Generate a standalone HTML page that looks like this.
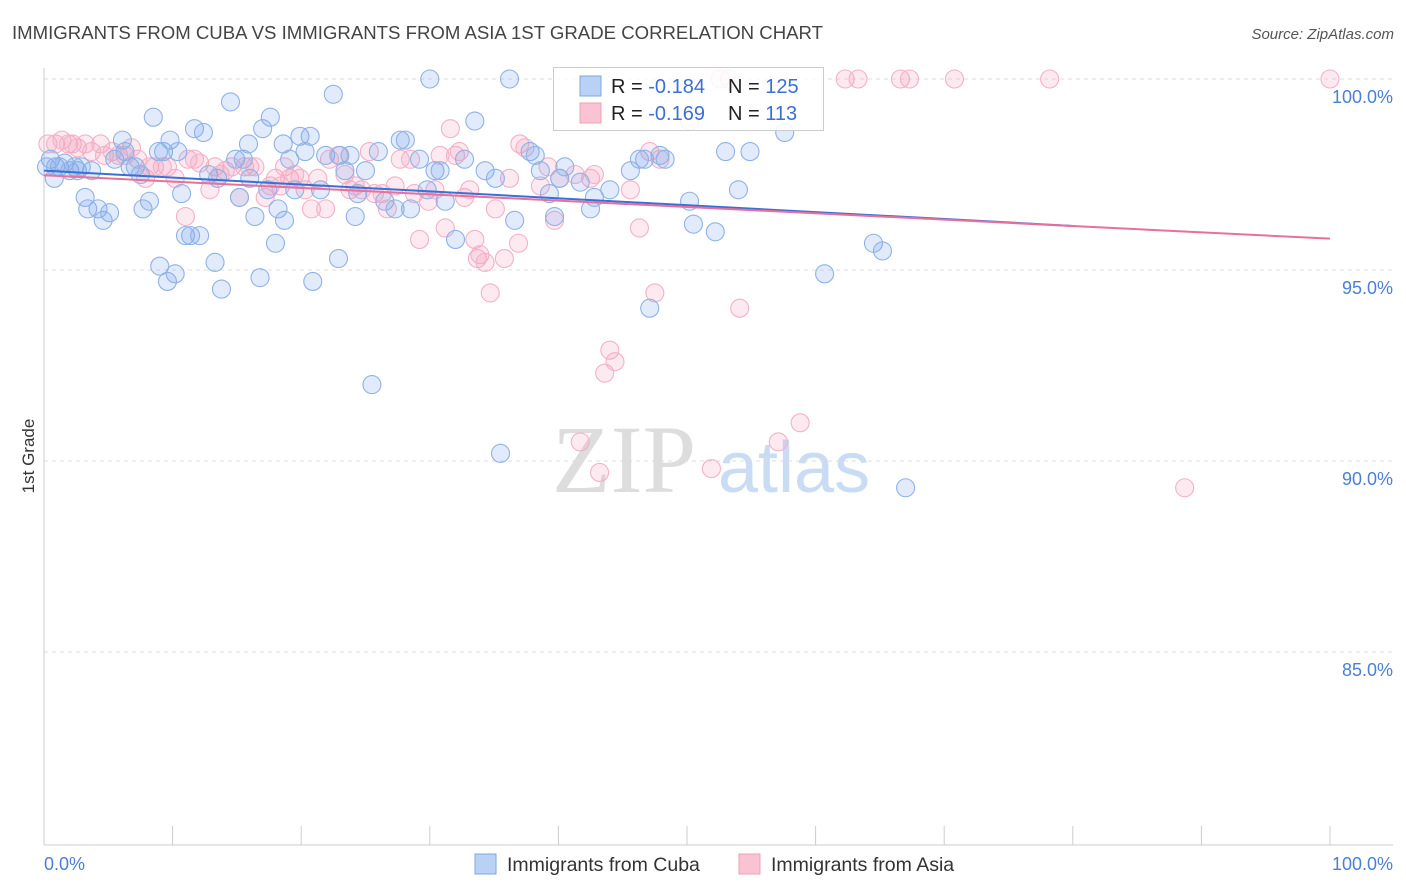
<!DOCTYPE html>
<html><head><meta charset="utf-8"><style>
body{margin:0;background:#fff;font-family:"Liberation Sans",sans-serif;}
svg{display:block}
</style></head><body>
<svg id="chart" width="1406" height="892">
<text x="12" y="39" font-size="18.6" fill="#444">IMMIGRANTS FROM CUBA VS IMMIGRANTS FROM ASIA 1ST GRADE CORRELATION CHART</text>
<text x="1394" y="39" font-size="15" fill="#555" font-style="italic" text-anchor="end">Source: ZipAtlas.com</text>
<text x="34" y="456" font-size="17" fill="#333" transform="rotate(-90 34 456)" text-anchor="middle">1st Grade</text>
<g><text x="552" y="492" font-size="96" font-family="Liberation Serif,serif" fill="#ddd">ZIP</text><text x="718" y="492" font-size="72" fill="#c9dcf4">atlas</text></g>
<g id="grid"></g><g id="pts"></g><g id="lines"></g>
<g>
<rect x="553.5" y="67.5" width="270" height="63" fill="#fff" fill-opacity="0.85" stroke="#ccc"/>
<rect x="580" y="76" width="21" height="20" fill="#b8d1f5" stroke="#7fa6e0"/>
<rect x="580" y="103" width="21" height="20" fill="#f9c3d3" stroke="#f0a0b8"/>
<text x="611" y="93" font-size="20" fill="#222">R = <tspan fill="#3b6fd6">-0.184</tspan></text>
<text x="728" y="93" font-size="20" fill="#222">N = <tspan fill="#3b6fd6">125</tspan></text>
<text x="611" y="120" font-size="20" fill="#222">R = <tspan fill="#3b6fd6">-0.169</tspan></text>
<text x="728" y="120" font-size="20" fill="#222">N = <tspan fill="#3b6fd6"> 113</tspan></text>
</g>
<g>
<rect x="475" y="854" width="21" height="20" fill="#b8d1f5" stroke="#7fa6e0"/>
<text x="507" y="871" font-size="19.5" fill="#333">Immigrants from Cuba</text>
<rect x="739" y="854" width="21" height="20" fill="#f9c3d3" stroke="#f0a0b8"/>
<text x="771" y="871" font-size="19.5" fill="#333">Immigrants from Asia</text>
</g>
</svg>
<script>
const yTicks=[100,95,90,85];
const yTickLabels=["100.0%","95.0%","90.0%","85.0%"];
const xTickCount=10;
const cubaX=[0.5,0.9,1.2,1.6,2.0,2.4,2.6,3.2,3.4,3.7,4.2,4.6,5.1,5.5,6.1,6.3,6.7,7.1,7.5,7.7,8.2,8.5,8.9,9.3,9.0,9.6,9.8,10.2,10.4,10.7,11.0,11.4,11.7,12.1,12.4,12.8,13.3,13.5,13.8,14.5,14.9,15.2,15.5,15.9,16.0,16.4,16.8,17.0,17.4,17.6,18.0,18.2,18.6,18.7,19.1,19.5,19.9,20.3,20.7,20.9,21.5,21.9,22.5,22.9,23.0,23.4,23.8,24.2,24.4,25.0,25.5,26.0,26.5,27.3,27.7,28.1,28.5,29.2,29.8,30.0,30.4,30.8,31.2,32.0,32.7,33.5,34.3,35.1,35.5,36.2,36.6,37.8,38.2,38.6,39.3,39.7,40.1,40.5,41.7,42.5,42.8,44.0,45.6,46.3,46.7,47.1,47.9,48.3,50.2,50.5,52.2,53.0,54.0,54.9,57.6,60.7,64.5,65.2,67.0,0.2,0.8,2.9];
const cubaY=[97.9,97.7,97.7,97.8,97.6,97.7,97.6,96.9,96.6,97.6,96.6,96.3,96.5,97.9,98.4,98.1,97.7,97.7,97.5,96.6,96.8,99.0,98.1,98.1,95.1,94.7,98.4,94.9,98.1,97.0,95.9,95.9,98.7,95.9,98.6,97.5,95.2,97.4,94.5,99.4,97.9,96.9,97.9,98.3,97.4,96.4,94.8,98.7,97.1,99.0,95.7,96.6,98.3,96.3,97.9,97.1,98.5,98.1,98.5,94.7,97.1,98.0,99.6,95.3,98.0,97.6,98.0,96.4,97.0,97.6,92.0,98.1,96.8,96.6,98.4,98.4,96.6,97.9,97.1,100.0,97.6,97.6,96.8,95.8,97.9,98.9,97.6,97.4,90.2,100.0,96.3,98.1,98.0,97.6,97.0,96.4,97.4,97.7,97.3,96.6,96.9,97.1,97.6,97.9,97.9,94.0,98.0,97.9,96.8,96.2,96.0,98.1,97.1,98.1,98.6,94.9,95.7,95.5,89.3,97.7,97.4,97.7];
const asiaX=[0.3,0.9,1.4,1.9,2.2,2.6,3.2,3.7,4.4,4.7,5.3,5.8,6.3,6.8,7.3,7.9,8.2,8.6,9.2,9.6,10.2,11.0,11.2,11.7,12.1,12.9,13.3,13.7,14.1,14.6,15.2,15.6,16.0,16.4,17.2,17.6,18.0,18.4,18.7,19.1,19.5,19.9,20.3,20.8,21.3,21.9,22.2,22.9,23.4,23.8,24.2,24.7,25.3,25.7,26.3,26.7,27.3,27.7,28.5,28.8,29.2,29.9,30.4,30.8,31.2,31.6,32.0,32.3,32.7,33.1,33.5,33.7,33.9,34.3,34.7,35.1,35.8,36.2,36.9,37.0,37.4,38.6,39.2,39.7,40.1,41.3,41.7,42.5,42.8,43.2,43.6,44.0,44.4,45.6,46.3,47.1,47.5,47.9,50.2,51.9,52.6,53.3,54.1,57.1,58.8,62.3,63.3,66.6,67.3,70.8,78.2,88.7,100.0];
const asiaY=[98.3,98.3,98.4,98.3,98.3,98.2,98.3,98.1,98.3,98.0,98.1,98.0,98.0,98.2,97.9,97.4,97.7,97.7,97.7,97.7,97.4,96.4,97.9,97.9,97.8,97.1,97.7,97.5,97.6,97.7,96.9,97.7,97.7,97.7,96.9,97.2,97.4,97.2,97.7,97.4,97.5,97.4,97.1,96.6,97.4,96.6,97.9,98.0,97.5,97.1,97.2,97.1,98.1,97.0,97.0,96.6,97.2,97.9,97.9,97.0,95.8,96.8,97.1,98.0,96.1,98.7,98.0,98.1,96.9,97.1,95.8,95.3,95.4,95.2,94.4,96.6,95.3,97.4,95.7,98.3,98.2,97.2,97.7,96.3,97.4,97.5,90.5,97.4,97.5,89.7,92.3,92.9,92.6,97.1,96.1,98.1,94.4,97.9,98.9,89.8,100.0,100.0,94.0,90.5,91.0,100.0,100.0,100.0,100.0,100.0,100.0,89.3,100.0];
const cubaLine=[0,97.6,80.2,96.15];
const asiaLine=[0,97.48,100,95.82];
const X0=44,X1=1330,Y100=79,PX=38.2;
const sx=v=>X0+(X1-X0)*v/100;
const sy=v=>Y100+(100-v)*PX;
const NS="http://www.w3.org/2000/svg";
function mk(tag,attrs,parent){const e=document.createElementNS(NS,tag);for(const k in attrs)e.setAttribute(k,attrs[k]);parent.appendChild(e);return e;}
const grid=document.getElementById('grid');
yTicks.forEach((t,i)=>{
 const l=mk('line',{x1:X0,x2:1393,y1:sy(t),y2:sy(t),stroke:'#ddd','stroke-dasharray':'4,4'},grid);
 
 
 const tx=mk('text',{x:1393,y:sy(t)+24,'font-size':18,fill:'#4a7fd6','text-anchor':'end'},grid);
 tx.textContent=yTickLabels[i];
 
 
});
const ya=mk('line',{x1:X0,x2:X0,y1:68,y2:845,stroke:'#ccc'},grid);


const xa=mk('line',{x1:X0,x2:1393,y1:845,y2:845,stroke:'#ccc'},grid);


for(let i=0;i<=xTickCount;i++){
 const t=mk('line',{x1:sx(i*10),x2:sx(i*10),y1:826,y2:845,stroke:'#ccc'},grid);
 
 
}
const xl0=mk('text',{x:44,y:870,'font-size':18,fill:'#4a7fd6'},grid);xl0.textContent='0.0%';


const xl1=mk('text',{x:1393,y:870,'font-size':18,fill:'#4a7fd6','text-anchor':'end'},grid);xl1.textContent='100.0%';


const pts=document.getElementById('pts');
asiaX.forEach((x,i)=>{
 const c=mk('circle',{cx:sx(x),cy:sy(asiaY[i]),r:9,fill:'rgba(244,160,188,0.22)',stroke:'#f4b0c6','stroke-width':1.1},pts);
 
 
});
cubaX.forEach((x,i)=>{
 const c=mk('circle',{cx:sx(x),cy:sy(cubaY[i]),r:9,fill:'rgba(120,165,235,0.22)',stroke:'#8fb2e6','stroke-width':1.1},pts);
 
 
});
const lines=document.getElementById('lines');
const lb=mk('line',{x1:sx(cubaLine[0]),y1:sy(cubaLine[1]),x2:sx(cubaLine[2]),y2:sy(cubaLine[3]),stroke:'#3b6fd6','stroke-width':2},lines);


const lp=mk('line',{x1:sx(asiaLine[0]),y1:sy(asiaLine[1]),x2:sx(asiaLine[2]),y2:sy(asiaLine[3]),stroke:'#e8709a','stroke-width':2},lines);


</script>
</body></html>
